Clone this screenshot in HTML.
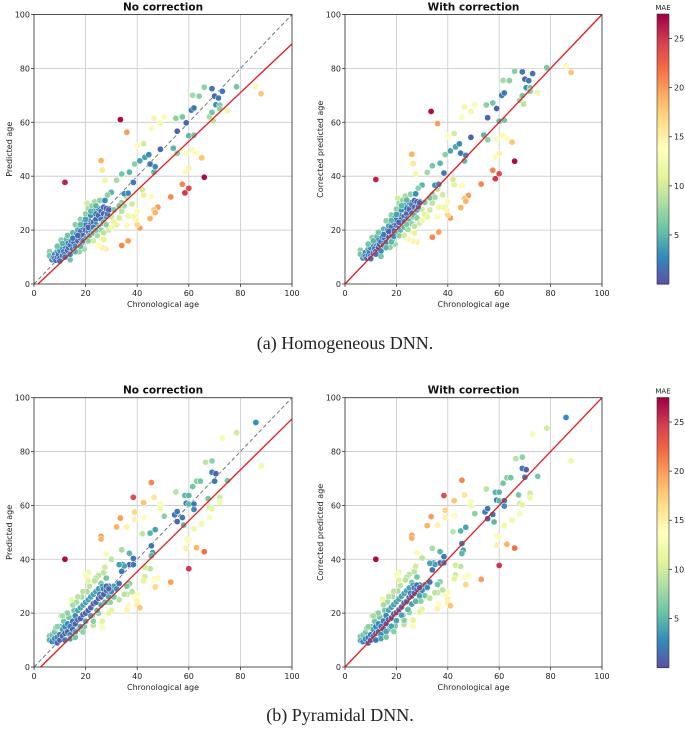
<!DOCTYPE html>
<html><head><meta charset="utf-8">
<style>
body{margin:0;background:#fff;}
svg{display:block;font-family:"DejaVu Sans","Liberation Sans",sans-serif;}
</style></head>
<body>
<svg id="fig" width="685" height="738" viewBox="0 0 685 738" xmlns="http://www.w3.org/2000/svg">
<text x="345" y="349" text-anchor="middle" font-family="'Liberation Serif','DejaVu Serif',serif" font-size="18" fill="#222">(a) Homogeneous DNN.</text>
<text x="340" y="721" text-anchor="middle" font-family="'Liberation Serif','DejaVu Serif',serif" font-size="18" fill="#222">(b) Pyramidal DNN.</text>
</svg>
<script>
// ---- data: [chronological age, predicted age, MAE] ----
const row1Points = [
[12,37.7,26],[33.5,61,27],[36,56.3,20],[26,45.8,19],[26.5,42.3,16],[27.5,38.4,12],[32,38.5,8],[34,40.8,6],[37,41.5,5],[38.5,37.7,2],[39,44.5,7],[40,51.3,14],[42.5,52,10],[41,45.7,4],[43,47,4],[44.5,48,3],[45,44.5,2],[46.5,41.5,5],[47,43.5,3],[49,50,1],[45.5,57.8,13],[46.5,61.5,15],[49,59.6,12],[50.5,62,13],[54,50.4,5],[55.5,48.5,7],[55.5,56.7,1],[55,61.5,7],[57.5,62,6],[59,59.8,1],[60,55,5],[61,64.5,2],[62,65.3,2],[62,55.2,6],[61.5,70,8],[64,69.7,7],[66,73,7],[69,72.5,2],[70,69.7,1],[70.5,66.5,3],[71.5,69,2],[72,66.3,6],[73,71.5,2],[72,65,7],[68,62,8],[69,63.7,6],[69.5,60.5,9],[75,64.2,12],[78.5,73.2,6],[86,73.3,13],[88,70.6,18],
[59,48.5,13],[60,43,15],[58.5,41.7,14],[61.5,49.7,13],[63,48.5,14],[65,46.8,18],[66,39.6,27],[60,35.5,24],[58.5,33.8,25],[57.5,37,21],[53,32.3,21],[48,28.5,20],[46.5,27.5,18],[47,26.5,19],[45,24.3,19],[41,20.8,20],[40,22,17],[39.5,24,15],[40,27,13],[38.5,25,12],[36.5,25.2,12],[36,21.7,13],[34,14.3,21],[36.5,16,20],[45.5,32.5,14],[42.5,33,11],[42,35,10],[38,29.7,10],[36,32,9],[34,30.2,7],[35,33.5,3],[36.5,33.7,3],[30,34,5],[28.5,33,7],[27,30.8,8],[29,28,2],[28,13,15],[26.5,13.5,15],[25,14.3,14],[26,17,13],[27,16.5,11],[23,16,10],[30,25,10],[31,23,11],[32,22,11],[33,24.5,10],[34,27,9],[35,29,8],[31,27.5,6],[33,29,6],
[6,12,7],[6,10.5,6],[7,9,3],[7.5,10,2],[8,11,3],[8,9.5,2],[8.5,8.8,1],[9,10,2],[9,12,4],[9.5,11,2],[10,9.5,1],[10,12.5,3],[10.5,16.3,7],[11,10.5,1],[11,13.5,3],[11.5,12,2],[12,11,1],[12,14,3],[12.5,16.5,5],[13,12.5,1],[13,15,3],[13.5,13.5,1],[14,9,6],[14,14.5,2],[14.5,16,2],[15,13,2],[15,19,5],[15.5,15.5,1],[16,17.5,2],[16,14,3],[16.5,18.5,3],[17,16,1],[17,20,4],[17.5,12,7],[18,17,1],[18,19.5,2],[18,24,7],[18.5,15,5],[19,18,1],[19,21,2],[19.5,23,4],[19.5,13,8],[20,20,1],[20,22,2],[20,26,7],[20,17,4],[20.5,30,10],[21,19.5,2],[21,24,3],[21,28,8],[21.5,18,5],[22,22,1],[22,25.5,3],[22,20,3],[22.5,29,7],[23,23,1],[23,27,4],[23,19,5],[23.5,30.5,8],[24,24,1],[24,22,3],[24,26,2],[24.5,18,8],[25,25.5,1],[25,28,3],[25,21,5],[25.5,31,7],[26,24,2],[26,27,2],[26,20,7],[26.5,22.5,6],[27,26,1],[27,28.5,1],[27,23,5],[27.5,31,3],[28,25,4],[28,28,1],[28,22,7],[28.5,26,2],[29,20,10],[29,27.5,1],[14,11,3],[12,10,2],[10,8.5,2],[15,17,2],[17,18,1],[19,16,3],[21,21,1],[23,21,2],[13,18,6],[16,22,7],[18,22,5],[20,24,4],[22,27,5],[24,29,5],[11,15,5],[9,14,6],[16,12,5],[18,14,5],[21,16,7],[24,20,6],[27,19,9],[30,21,12]
];
const row2Points = [
[12,40,27],[38.5,63,24],[45.5,68.5,21],[33.5,55.3,20],[32,52,19],[36,52,15],[26,48.5,20],[26,47.5,19],[28,42,13],[30,40,9],[34,43.5,8],[37,42.2,5],[38.5,40.3,2],[37,38,1],[38.5,38,2],[34.5,38,3],[34,35.5,2],[35,37.5,4],[39,57.5,17],[39,54.8,15],[42.5,61,18],[46.5,63,16],[42.5,55.5,14],[42,49.5,9],[45,49.7,5],[47,51,4],[45.5,45,2],[46,42.5,4],[45.5,41.3,5],[45,36.5,9],[43,37,10],[43,33.5,10],[42.5,32,11],[46.5,32.5,14],[48,33,14],[47,29.7,17],[53,31.5,20],[40,27,13],[39,26,14],[40,24.5,15],[40,23,15],[41,22,18],[36.5,23,14],[36,21,15],[36,27,9],[38,28,9],[37,31,7],[36,30,6],[49,60.5,13],[49,58.8,12],[50.5,56,7],[55,65,9],[54.5,56.5,2],[55.5,57.7,2],[55.5,54,1],[57.5,55.5,2],[58,52.7,5],[58.5,63.7,5],[59,60.8,2],[60,60.5,5],[62,60.5,2],[62,58.5,3],[61.5,67,6],[63,69,7],[64.5,69,6],[66.5,76,9],[69,76.5,7],[69,72.3,2],[70.5,71.8,1],[70,69,2],[67.5,62.5,6],[68,59.3,10],[69,58.8,11],[68,55.5,13],[65,53.2,12],[62,51.3,12],[59,47.5,14],[60,47,14],[59,44,15],[63,44.3,19],[66,42.8,22],[60,36.5,25],[72,63,10],[72,61.3,12],[75,69.2,6],[73,85,13],[78.5,87,10],[86,90.8,3],[88,74.7,12],[60,63.7,5],
[31,30,4],[32,29,3],[33,31,2],[30,28,3],[29,30,2],[28,27,1],[27,35,9],[27.5,37,10],[25,34,9],[24,33,9],[26,31,6],[28,33,6],[21,35,12],[20,34,13],[30,21,11],[29,20,11],[28,24,7],[26.5,17,11],[26.5,14.7,13],[23,15.5,9],[25,20,7],[29.5,24,7],[31,26,6],[33,25,9],[35,27,9],[33,38,4],
[6,11.5,6],[6,10,5],[7,12,6],[7,9.5,3],[8,10.5,3],[8,13,6],[8.5,14.5,7],[9,11,2],[9,9,1],[10,10,1],[10,12,2],[10,15,5],[10.5,19,10],[11,11.5,1],[11,14,4],[11.5,17,6],[12,12.5,1],[12,15,3],[12.5,20,9],[13,13,1],[13,16,3],[13.5,18.5,6],[14,12,3],[14,15,2],[14.5,25,12],[15,14,1],[15,17,2],[15.5,21,6],[16,16,1],[16,19,3],[16.5,24,8],[17,17.5,1],[17,21,4],[17.5,14,5],[18,18,1],[18,22,4],[18.5,26,8],[19,19.5,1],[19,23,4],[19.5,15,6],[20,20,1],[20,24,4],[20.5,28,8],[21,21,1],[21,25,4],[21.5,30,9],[22,22,1],[22,26,4],[22.5,19,5],[23,23.5,1],[23,27,4],[23.5,32,9],[24,24,1],[24,28,4],[24.5,21,5],[25,25.5,1],[25,29,4],[25.5,27,2],[26,26,1],[26,23,4],[26.5,30,4],[27,27,1],[27,29,2],[27.5,24,5],[28,28.5,1],[28,30,2],[29,29,1],[29,26,4],[14,10.5,4],[12,10,2],[16,13,4],[18,15,4],[20,17,4],[22,19,4],[13,20,7],[15,23,8],[17,26,9],[19,28,9],[21,32,11],[11,19,8],[9,15,7],[16,11,6],[19,13,7],[23,17,7]
];
const titles = ["No correction","With correction"];
const yLabels = ["Predicted age","Corrected predicted age"];
const ticks = [0,20,40,60,80,100];
const cbTicks = [5,10,15,20,25];
// red fit lines: [slope, intercept]
const row1Fit = [0.905, -1.4];
const row2Fit = [0.945, -2.4];
// age-bias correction coefficients: corrected = pred + k*age + c
const row1Corr = [0.09, 0.0];
const row2Corr = [0.025, -0.3];
const maeMax = 27.5;

const NS="http://www.w3.org/2000/svg";
const svg=document.getElementById('fig');
function el(tag,attrs,parent){const e=document.createElementNS(NS,tag);for(const k in attrs)e.setAttribute(k,attrs[k]);(parent||svg).appendChild(e);return e;}
const stops=["#5e4fa2","#3288bd","#66c2a5","#abdda4","#e6f598","#ffffbf","#fee08b","#fdae61","#f46d43","#d53e4f","#9e0142"];
function hex(h){return [1,3,5].map(i=>parseInt(h.substr(i,2),16));}
function cmap(v){let t=Math.max(0,Math.min(1,v/maeMax))*10;let i=Math.min(9,Math.floor(t));let f=t-i;const a=hex(stops[i]),b=hex(stops[i+1]);return 'rgb('+a.map((c,j)=>Math.round(c+(b[j]-c)*f)).join(',')+')';}

function panel(px,py,w,h,points,fit,corr,col,name){
  const g=el('g',{});
  
  
  const sx=v=>px+v/100*w, sy=v=>py+h-v/100*h;
  ticks.forEach(t=>{
    const gx=el('line',{x1:sx(t),x2:sx(t),y1:py,y2:py+h,stroke:'#c8c8c8','stroke-width':0.8},g);
    
    const gy=el('line',{x1:px,x2:px+w,y1:sy(t),y2:sy(t),stroke:'#c8c8c8','stroke-width':0.8},g);
    
    el('line',{x1:sx(t),x2:sx(t),y1:py+h,y2:py+h+3,stroke:'#333','stroke-width':0.8},g);
    el('line',{x1:px-3,x2:px,y1:sy(t),y2:sy(t),stroke:'#333','stroke-width':0.8},g);
    const xt=el('text',{x:sx(t),y:py+h+12,'text-anchor':'middle','font-size':8,fill:'#222'},g);xt.textContent=t;
    
    const yt=el('text',{x:px-4,y:sy(t)+3,'text-anchor':'end','font-size':8,fill:'#222'},g);yt.textContent=t;
    
  });
  if(col===0){
    const d=el('line',{x1:sx(0),y1:sy(0),x2:sx(100),y2:sy(100),stroke:'#777','stroke-width':1,'stroke-dasharray':'4,2.5'},g);
    
  }
  points.forEach(p=>{
    let y=p[1]; if(col===1) y=p[1]+corr[0]*p[0]+corr[1];
    const c=el('circle',{cx:sx(p[0]),cy:sy(y),r:3.1,fill:cmap(p[2]),stroke:'#fff','stroke-width':0.5},g);
    
    
  });
  let a=col===0?fit[0]:1,b=col===0?fit[1]:0;
  let x0=Math.max(0,-b/a), x1=Math.min(100,(100-b)/a);
  const r=el('line',{x1:sx(x0),y1:sy(a*x0+b),x2:sx(x1),y2:sy(a*x1+b),stroke:'#e8191c','stroke-width':1.3},g);
  
  el('rect',{x:px,y:py,width:w,height:h,fill:'none',stroke:'#333','stroke-width':0.8},g);
  const ti=el('text',{x:px+w/2,y:py-4,'text-anchor':'middle','font-size':10.5,'font-weight':'bold',fill:'#111'},g);ti.textContent=titles[col];
  
  const xl=el('text',{x:px+w/2,y:py+h+23,'text-anchor':'middle','font-size':8,fill:'#222'},g);xl.textContent='Chronological age';
  
  const yx=px-22,yy=py+h/2;
  const yl=el('text',{x:yx,y:yy,'text-anchor':'middle','font-size':8,fill:'#222',transform:'rotate(-90 '+yx+' '+yy+')'},g);yl.textContent=yLabels[col];
  
}
function colorbar(x,y,w,h,name){
  const g=el('g',{});
  
  
  const n=120;
  for(let i=0;i<n;i++){
    el('rect',{x:x,y:y+h-(i+1)*h/n,width:w,height:h/n+0.6,fill:cmap((i+0.5)/n*maeMax)},g);
  }
  el('rect',{x:x,y:y,width:w,height:h,fill:'none',stroke:'#333','stroke-width':0.6},g);
  cbTicks.forEach(t=>{
    const ty=y+h-t/maeMax*h;
    el('line',{x1:x+w,x2:x+w+3,y1:ty,y2:ty,stroke:'#333','stroke-width':0.8},g);
    const tt=el('text',{x:x+w+5,y:ty+3,'font-size':8,fill:'#222'},g);tt.textContent=t;
    
  });
  const l=el('text',{x:x+w/2,y:y-4,'text-anchor':'middle','font-size':7,fill:'#222'},g);l.textContent='MAE';
  
}
panel(34,14.5,258,269.5,row1Points,row1Fit,row1Corr,0,'panel-a-no-correction');
panel(345,14.5,257,269.5,row1Points,row1Fit,row1Corr,1,'panel-a-with-correction');
colorbar(657,14,12,270,'colorbar-a');
panel(34,397.7,258,269.3,row2Points,row2Fit,row2Corr,0,'panel-b-no-correction');
panel(345,397.7,257,269.3,row2Points,row2Fit,row2Corr,1,'panel-b-with-correction');
colorbar(657,397.5,12,270,'colorbar-b');
</script>
</body></html>
